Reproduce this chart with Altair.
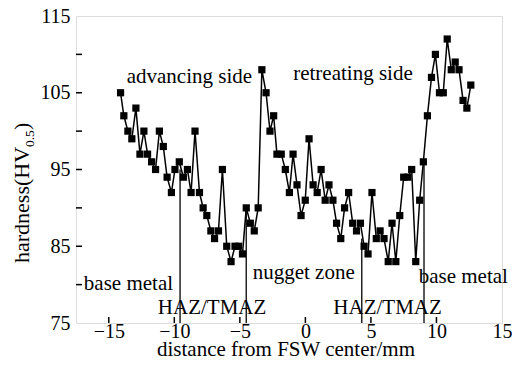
import altair as alt
import pandas as pd

# measured hardness profile (distance from FSW center in mm, hardness HV0.5)
distance = [-14.1, -13.85, -13.54, -13.24, -12.93, -12.62, -12.32, -12.04, -11.73, -11.43,
            -11.14, -10.84, -10.55, -10.22, -9.95, -9.62, -9.31, -9.0, -8.72, -8.42,
            -8.08, -7.8, -7.52, -7.21, -6.93, -6.63, -6.33, -6.0, -5.67, -5.37,
            -5.1, -4.8, -4.51, -4.2, -3.9, -3.6, -3.32, -3.0, -2.7, -2.42,
            -2.17, -1.84, -1.53, -1.22, -0.94, -0.64, -0.33, -0.01, 0.28, 0.59,
            0.9, 1.2, 1.51, 1.8, 2.1, 2.38, 2.7, 2.99, 3.3, 3.61,
            3.9, 4.2, 4.48, 4.78, 5.08, 5.41, 5.7, 6.0, 6.32, 6.61,
            6.9, 7.2, 7.5, 7.82, 8.11, 8.42, 8.72, 9.0, 9.31, 9.62,
            9.92, 10.23, 10.52, 10.82, 11.13, 11.43, 11.72, 12.03, 12.32, 12.62]
hardness = [105, 102, 100, 99, 103, 97, 100, 97, 96, 95,
            100, 98, 94, 92, 95, 96, 94, 95, 92, 100,
            92, 90, 89, 87, 86, 87, 95, 85, 83, 85,
            85, 84, 90, 88, 87, 90, 108, 105, 100, 102,
            97, 97, 95, 92, 97, 93, 89, 91, 99, 93,
            92, 95, 91, 93, 91, 88, 86, 90, 92, 88,
            87, 88, 85, 84, 92, 86, 87, 86, 83, 88,
            83, 89, 94, 94, 95, 83, 91, 96, 102, 107,
            110, 105, 105, 112, 108, 109, 108, 104, 103, 106]

# zone boundary lines
zone_x = [-9.56, -4.51, 4.3, 9.05]
zone_top = [95, 90, 86, 96]
zone_base = [75, 75, 75, 75]

# annotations
ann_text = ["advancing side", "retreating side", "base metal", "nugget zone",
            "HAZ/TMAZ", "HAZ/TMAZ", "base metal"]
ann_x = [-8.85, 3.63, -13.5, -0.13, -7.12, 6.27, 12.05]
ann_y = [107.1, 107.4, 80.1, 81.5, 77.0, 77.0, 81.0]

x_ticks = [-15, -10, -5, 0, 5, 10, 15]
y_ticks = [75, 85, 95, 105, 115]
y_minor = [80, 85, 90, 95, 100, 105, 110]
x_inner = [-15, -10, -5, 0, 5, 10]

FONT = "Liberation Serif"
W, H = 426, 307

df = pd.DataFrame({"x": distance, "y": hardness})
zones = pd.DataFrame({"x": zone_x, "y": zone_base, "y2": zone_top})
ann = pd.DataFrame({"x": ann_x, "y": ann_y, "label": ann_text})
ytk = pd.DataFrame({"y": y_minor})
xtk = pd.DataFrame({"x": x_inner})

xs = alt.Scale(domain=[-17.5, 15], nice=False, zero=False)
ys = alt.Scale(domain=[75, 115], nice=False, zero=False)

xenc = alt.X("x:Q", scale=xs, axis=alt.Axis(
    values=x_ticks, ticks=False, tickSize=0, domain=False, grid=False, labelFlush=False,
    labelOverlap=False, labelFont=FONT, labelFontSize=20, labelColor="black",
    labelPadding=-2, title=None))
yenc = alt.Y("y:Q", scale=ys, axis=alt.Axis(
    values=y_ticks, ticks=False, tickSize=0, domain=False, grid=False, labelFlush=False,
    labelOverlap=False, labelFont=FONT, labelFontSize=20, labelColor="black",
    labelPadding=6, title=None))

line = alt.Chart(df).mark_line(color="black", strokeWidth=1.5).encode(x=xenc, y=yenc)
pts = alt.Chart(df).mark_point(shape="square", filled=True, size=52, color="black",
                               opacity=1).encode(x="x:Q", y="y:Q")
rules = alt.Chart(zones).mark_rule(color="#222", strokeWidth=1.5).encode(
    x="x:Q", y="y:Q", y2="y2:Q")
texts = alt.Chart(ann).mark_text(font=FONT, fontSize=21, color="black").encode(
    x="x:Q", y="y:Q", text="label:N")
yt = alt.Chart(ytk).mark_rule(color="black", strokeWidth=1.5).encode(
    y="y:Q", x=alt.value(0), x2=alt.value(6))
xt = alt.Chart(xtk).mark_rule(color="black", strokeWidth=1.5).encode(
    x="x:Q", y=alt.value(H), y2=alt.value(H - 6))

xtitle = alt.Chart(pd.DataFrame({"t": ["distance from FSW center/mm"]})).mark_text(
    font=FONT, fontSize=21, align="center", baseline="alphabetic", color="black"
).encode(x=alt.value(W / 2 - 3), y=alt.value(H + 33), text="t:N")
t1 = alt.Chart(pd.DataFrame({"t": ["hardness(HV"]})).mark_text(
    font=FONT, fontSize=22, angle=270, align="left", baseline="alphabetic", color="black"
).encode(x=alt.value(-47), y=alt.value(247), text="t:N")
t2 = alt.Chart(pd.DataFrame({"t": ["0.5"]})).mark_text(
    font=FONT, fontSize=13.5, angle=270, align="left", baseline="alphabetic", color="black"
).encode(x=alt.value(-42), y=alt.value(131), text="t:N")
t3 = alt.Chart(pd.DataFrame({"t": [")"]})).mark_text(
    font=FONT, fontSize=22, angle=270, align="left", baseline="alphabetic", color="black"
).encode(x=alt.value(-47), y=alt.value(114), text="t:N")

chart = alt.layer(rules, line, pts, texts, yt, xt, xtitle, t1, t2, t3).properties(
    width=W, height=H,
    autosize=alt.AutoSizeParams(type="none"),
    padding={"left": 68, "top": 8, "right": 10, "bottom": 38},
).configure_view(stroke="black", strokeWidth=1.5).configure(background="white")

chart.save("out.html", embed_options={"renderer": "svg", "actions": False})
